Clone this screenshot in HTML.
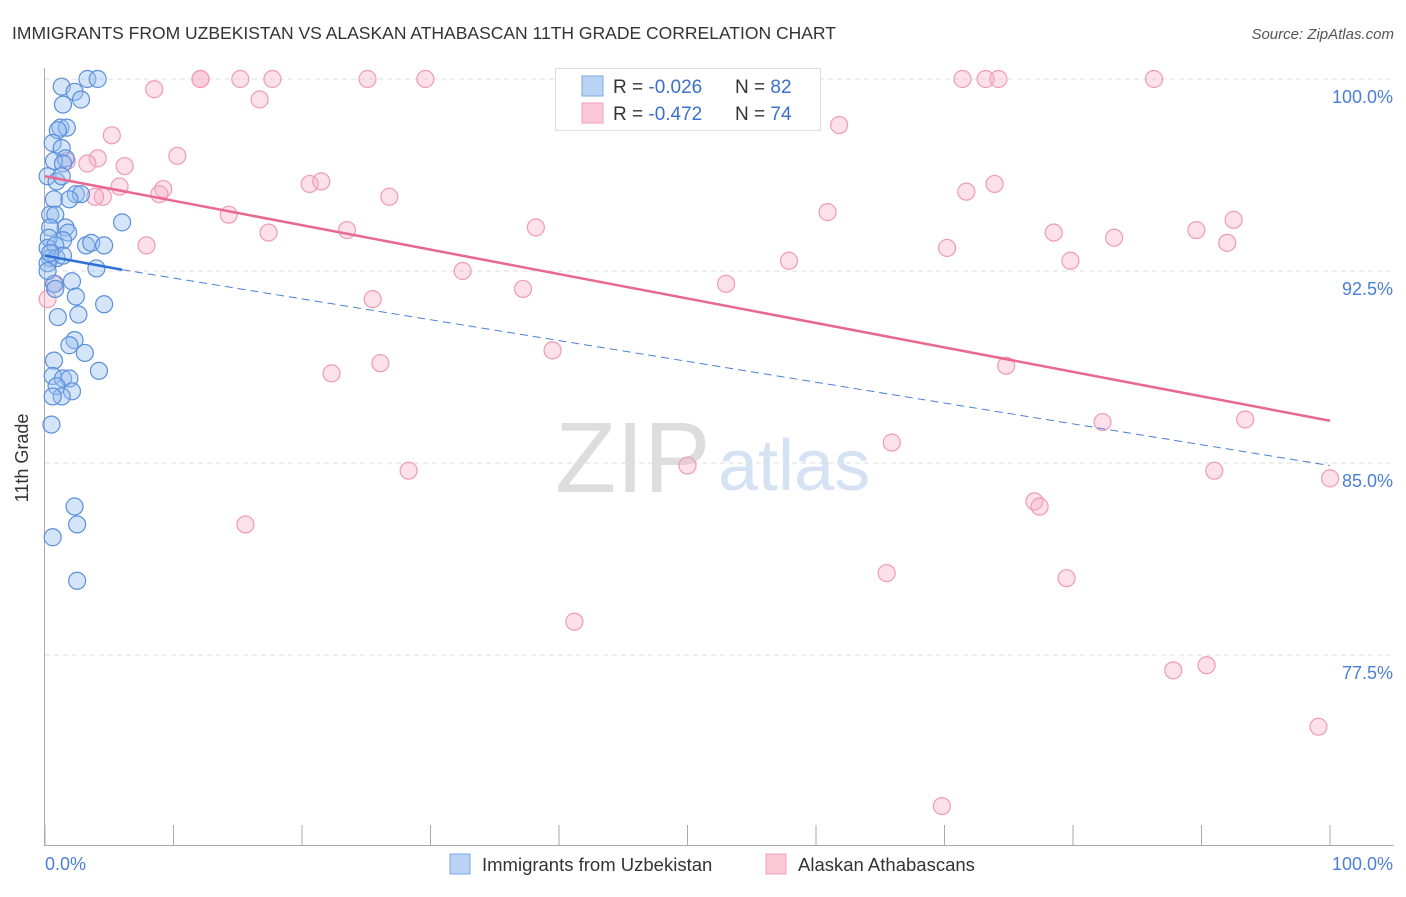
<!DOCTYPE html>
<html><head><meta charset="utf-8"><style>
body{margin:0;background:#fff;font-family:"Liberation Sans",sans-serif;}
svg text{font-family:"Liberation Sans",sans-serif;}
</style></head><body>
<svg id="chart" width="1406" height="892" xmlns="http://www.w3.org/2000/svg">
<text x="12" y="39" font-size="17.5" fill="#333">IMMIGRANTS FROM UZBEKISTAN VS ALASKAN ATHABASCAN 11TH GRADE CORRELATION CHART</text>
<text x="1394" y="39" font-size="15" fill="#555" text-anchor="end" font-style="italic">Source: ZipAtlas.com</text>
<g id="grid"></g>
<text x="555" y="492" font-size="100" fill="#ddd" font-family="Liberation Serif">ZIP</text>
<text x="718" y="490" font-size="72" fill="#d5e2f3">atlas</text>
<g id="axes"></g>
<g id="pts"></g>
<g id="trends"></g>
<text x="28" y="458" font-size="18" fill="#333" transform="rotate(-90 28 458)" text-anchor="middle">11th Grade</text>
<text x="45" y="870" font-size="18" fill="#4a7fd6">0.0%</text>
<text x="1393" y="870" font-size="18" fill="#4a7fd6" text-anchor="end">100.0%</text>
<g>
<rect x="555.5" y="68.5" width="265" height="62" fill="#fff" stroke="#ddd"/>
<rect x="582" y="76" width="21" height="20" fill="#b9d3f5" stroke="#7aa7e6"/>
<rect x="582" y="103" width="21" height="20" fill="#fbc8d8" stroke="#f2a0ba"/>
<text x="613" y="93" font-size="19" fill="#333">R = <tspan fill="#3a70cc">-0.026</tspan></text>
<text x="735" y="93" font-size="19" fill="#333">N = <tspan fill="#3a70cc">82</tspan></text>
<text x="613" y="120" font-size="19" fill="#333">R = <tspan fill="#3a70cc"> -0.472</tspan></text>
<text x="735" y="120" font-size="19" fill="#333">N = <tspan fill="#3a70cc">74</tspan></text>
</g>
<g>
<rect x="450" y="854" width="20" height="20" fill="#b9d3f5" stroke="#7aa7e6"/>
<text x="482" y="871" font-size="18.5" fill="#333">Immigrants from Uzbekistan</text>
<rect x="766" y="854" width="20" height="20" fill="#fbc8d8" stroke="#f2a0ba"/>
<text x="798" y="871" font-size="18.5" fill="#333">Alaskan Athabascans</text>
</g>
</svg>
<script>
const yTicks=[100,92.5,85,77.5];
const yTickLabels=["100.0%","92.5%","85.0%","77.5%"];
const xTicks=[0,10,20,30,40,50,60,70,80,90,100];
const blueX=[1.3,3.3,4.1,2.3,1.4,2.8,1.2,1.7,1.0,0.6,1.3,1.6,0.7,1.4,0.2,0.9,1.3,2.4,2.8,0.7,1.9,0.4,0.8,1.6,0.4,1.8,1.4,0.3,0.2,0.8,3.2,3.6,4.6,6.0,4.0,0.4,0.9,1.4,0.2,0.7,2.1,0.8,2.4,4.6,2.6,1.0,2.3,1.9,3.1,0.7,4.2,0.6,1.4,1.9,0.9,2.1,1.3,0.6,0.5,2.3,2.5,0.6,2.5,0.4,0.2];
const blueY=[99.7,100,100,99.5,99.0,99.2,98.1,98.1,98.0,97.5,97.3,96.9,96.8,96.7,96.2,96.0,96.2,95.5,95.5,95.3,95.3,94.7,94.7,94.2,94.2,94.0,93.7,93.8,93.4,93.5,93.5,93.6,93.5,94.4,92.6,93.0,93.0,93.1,92.8,92.0,92.1,91.8,91.5,91.2,90.8,90.7,89.8,89.6,89.3,89.0,88.6,88.4,88.3,88.3,88.0,87.8,87.6,87.6,86.5,83.3,82.6,82.1,80.4,93.2,92.5];
const pinkX=[12.1,12.1,15.2,17.7,25.1,29.6,71.4,73.2,74.2,86.3,8.5,16.7,5.2,61.8,10.3,4.1,3.3,1.7,6.2,5.8,9.2,8.9,4.5,3.9,20.6,21.5,26.8,14.3,17.4,7.9,23.5,38.2,60.9,71.7,73.9,92.5,78.5,83.2,89.6,92.0,70.2,57.9,32.5,79.8,37.2,53.0,25.5,39.5,26.1,22.3,74.8,82.3,93.4,65.9,28.3,50.0,91.0,100,15.6,77.0,77.4,65.5,79.5,41.2,87.8,90.4,99.1,69.8,0.2,0.8];
const pinkY=[100,100,100,100,100,100,100,100,100,100,99.6,99.2,97.8,98.2,97.0,96.9,96.7,96.8,96.6,95.8,95.7,95.5,95.4,95.4,95.9,96.0,95.4,94.7,94.0,93.5,94.1,94.2,94.8,95.6,95.9,94.5,94.0,93.8,94.1,93.6,93.4,92.9,92.5,92.9,91.8,92.0,91.4,89.4,88.9,88.5,88.8,86.6,86.7,85.8,84.7,84.9,84.7,84.4,82.6,83.5,83.3,80.7,80.5,78.8,76.9,77.1,74.7,71.6,91.4,92.0];
const blueTrend=[[0,93.1],[6,92.55],[100,84.9]];
const pinkTrend=[[0,96.2],[100,86.65]];
const X=v=>45+v*12.85, Y=v=>79+(100-v)*25.6;
const NS="http://www.w3.org/2000/svg";
function mk(t,a,p){const e=document.createElementNS(NS,t);for(const k in a)e.setAttribute(k,a[k]);p.appendChild(e);return e;}
const grid=document.getElementById('grid'),axes=document.getElementById('axes'),pts=document.getElementById('pts'),tr=document.getElementById('trends');
yTicks.forEach((v,i)=>{
 const l=mk('line',{x1:45,x2:1394,y1:Y(v),y2:Y(v),stroke:'#ddd','stroke-dasharray':'5,4'},grid);
 
 
 const t=mk('text',{x:1393,y:Y(v)+24,'font-size':18,fill:'#4a7fd6','text-anchor':'end'},axes);
 t.textContent=yTickLabels[i];
 
 
});
mk('line',{x1:44.5,x2:44.5,y1:68,y2:846,stroke:'#aaa'},axes);
mk('line',{x1:44,x2:1394,y1:845.5,y2:845.5,stroke:'#aaa'},axes);
xTicks.forEach(v=>{
 const l=mk('line',{x1:X(v),x2:X(v),y1:825,y2:845,stroke:'#aaa'},axes);
 
 
});
pinkX.forEach((v,i)=>{
 const c=mk('circle',{cx:X(v),cy:Y(pinkY[i]),r:8.5,fill:'rgba(248,180,203,0.4)',stroke:'#f09ab6','stroke-width':1.2},pts);
 
 
});
blueX.forEach((v,i)=>{
 const c=mk('circle',{cx:X(v),cy:Y(blueY[i]),r:8.5,fill:'rgba(150,190,240,0.4)',stroke:'#5b8fdc','stroke-width':1.2},pts);
 
 
});
const pl=mk('line',{x1:X(pinkTrend[0][0]),y1:Y(pinkTrend[0][1]),x2:X(pinkTrend[1][0]),y2:Y(pinkTrend[1][1]),stroke:'#e8688f','stroke-width':2.5},tr);


const b1=mk('line',{x1:X(blueTrend[0][0]),y1:Y(blueTrend[0][1]),x2:X(blueTrend[1][0]),y2:Y(blueTrend[1][1]),stroke:'#2f6fd6','stroke-width':2.5},tr);


const b2=mk('line',{x1:X(blueTrend[1][0]),y1:Y(blueTrend[1][1]),x2:X(blueTrend[2][0]),y2:Y(blueTrend[2][1]),stroke:'#4a80d8','stroke-width':1,'stroke-dasharray':'8,5'},tr);


</script>
</body></html>
